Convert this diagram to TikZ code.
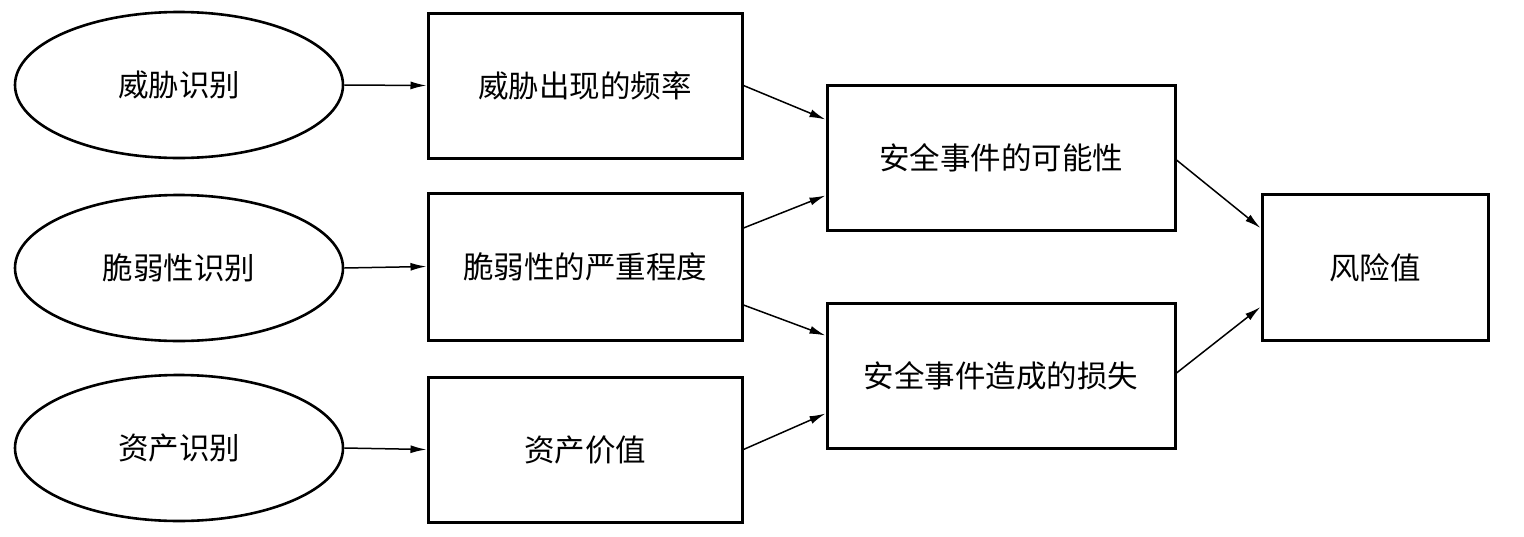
\documentclass[tikz,border=0pt]{standalone}
\usepackage{fontspec}
\newfontfamily\cjk{Noto Sans CJK SC}
\usetikzlibrary{shapes.geometric,arrows.meta,calc}
\begin{document}
\begin{tikzpicture}[x=1pt,y=-1pt,
  every node/.style={font=\cjk\fontsize{30.5}{36}\selectfont, inner sep=0pt},
  oval/.style={draw, ellipse, line width=2.6pt, minimum width=328pt, minimum height=146pt},
  box/.style={draw, rectangle, line width=3pt},
  conn/.style={line width=1.5pt, -{Latex[length=16pt,width=8pt]}}]
\useasboundingbox (0,0) rectangle (1524,536);
\node[oval] (e1) at (179,85) {威胁识别};
\node[oval] (e2) at (179,268) {脆弱性识别};
\node[oval] (e3) at (179,448) {资产识别};
\node[box, minimum width=314pt, minimum height=145pt] (b1) at (585,85.5) {威胁出现的频率};
\node[box, minimum width=314pt, minimum height=147pt] (b2) at (585,266.5) {脆弱性的严重程度};
\node[box, minimum width=314pt, minimum height=145pt] (b3) at (585,449.5) {资产价值};
\node[box, minimum width=348pt, minimum height=145pt] (b4) at (1001,157.5) {安全事件的可能性};
\node[box, minimum width=348pt, minimum height=145pt] (b5) at (1001,375.5) {安全事件造成的损失};
\node[box, minimum width=226pt, minimum height=146pt] (b6) at (1375,267.5) {风险值};
\draw[conn] (e1.east) -- (b1.west);
\draw[conn] (e2.east) -- (b2.west);
\draw[conn] (e3.east) -- (b3.west);
\draw[conn] (b1.east) -- ($(b4.west)+(0,-38)$);
\draw[conn] ($(b2.east)+(0,-38.5)$) -- ($(b4.west)+(0,38)$);
\draw[conn] ($(b2.east)+(0,38.5)$) -- ($(b5.west)+(0,-40)$);
\draw[conn] (b3.east) -- ($(b5.west)+(0,38)$);
\draw[conn] ($(b4.east)+(0,2.5)$) -- ($(b6.west)+(0,-39.5)$);
\draw[conn] ($(b5.east)+(0,-2.5)$) -- ($(b6.west)+(0,39.5)$);
\end{tikzpicture}
\end{document}
